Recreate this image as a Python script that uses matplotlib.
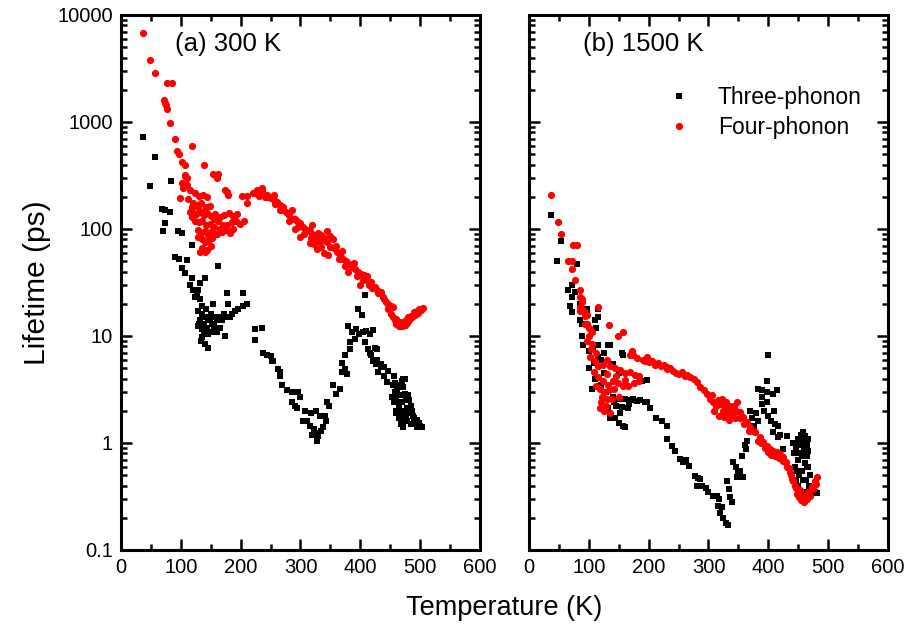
import matplotlib
matplotlib.use("Agg")
import matplotlib.pyplot as plt
from matplotlib.ticker import LogLocator, MultipleLocator, NullFormatter, FixedLocator, FixedFormatter

plt.rcParams['font.family'] = ['Liberation Sans', 'DejaVu Sans']

# (temperature K, lifetime ps) pairs for each panel and process
a_three = [
    (36, 720), (57, 470), (48, 250), (83, 280), (68, 155), (74, 150), (82, 145), (74, 114),
    (70, 96), (95, 95), (102, 92), (118, 71), (90, 55), (97, 52), (110, 51), (102, 43),
    (107, 39), (118, 35), (140, 35), (162, 45), (120, 27), (129, 27), (124, 23), (132, 22),
    (115, 30), (127, 24), (132, 31), (177, 25), (204, 25), (179, 20), (210, 20), (154, 20),
    (129, 17), (135, 16), (140, 15), (145, 14), (150, 16), (155, 15), (160, 14), (166, 15),
    (172, 16), (178, 15), (185, 16), (190, 17), (196, 18), (204, 19), (132, 14), (138, 13),
    (143, 12), (148, 14), (136, 19), (142, 18), (129, 12.5), (135, 11.5), (140, 12), (145, 10.5),
    (150, 11), (156, 12.5), (160, 11), (166, 12), (174, 10), (135, 9.7), (140, 8.5), (145, 7.8),
    (133, 9), (138, 10.5), (131, 13), (224, 11.5), (236, 12), (224, 9.2), (237, 7),
    (244, 6.7), (250, 6.5), (254, 5.8), (266, 4.6), (252, 5.8), (263, 4.9), (266, 4.2), (269, 3.5),
    (277, 3.1), (285, 3.0), (296, 3.0), (300, 2.7), (285, 2.4), (290, 2.2), (294, 2.1), (308, 2.0),
    (318, 1.9), (326, 2.0), (333, 1.8), (305, 1.6), (311, 1.6), (316, 1.45), (322, 1.35), (326, 1.25),
    (330, 1.15), (334, 1.3), (328, 1.05), (320, 1.2), (338, 1.4), (341, 1.8), (343, 1.6), (344, 2.4),
    (348, 2.2), (355, 3.5), (360, 2.9), (366, 3.2), (370, 5.6), (374, 4.9), (378, 4.4), (375, 6.7),
    (383, 7.5), (370, 4.6), (380, 12.3), (386, 11), (392, 11.5), (398, 10.5), (404, 10.8), (410, 11.2),
    (416, 10.5), (421, 11.3), (383, 8.7), (391, 9.3), (396, 17.7), (403, 15.8), (408, 24), (408, 8.7),
    (413, 7.6), (418, 6.7), (424, 7.8), (428, 7.5), (428, 6), (434, 5.5), (440, 5.1), (446, 4.7),
    (456, 4.2), (472, 4), (416, 7), (421, 5.8), (426, 5.5), (430, 4.6), (434, 5.2), (440, 4.2),
    (445, 3.7), (455, 3.5), (458, 3), (460, 2.7), (462, 2.4), (464, 2.2), (466, 2), (468, 1.8),
    (470, 3.8), (472, 3.3), (474, 2.9), (475, 4), (476, 2.5), (478, 2.1), (480, 1.9), (482, 2.5),
    (484, 2.2), (486, 2), (488, 1.8), (490, 1.7), (492, 1.6), (495, 1.65), (498, 1.55), (500, 1.45),
    (503, 1.4), (472, 1.4), (468, 1.5), (464, 1.7), (460, 2.0), (456, 2.4), (470, 1.6), (453, 2.7),
    (478, 1.6), (485, 1.5), (458, 3.6), (462, 3.2), (466, 2.8), (470, 2.4), (474, 2.0), (466, 3.5),
    (480, 2.8), (476, 1.8), (460, 1.9), (488, 1.5), (494, 1.4), (182, 15), (168, 14), (152, 13),
]

a_four = [
    (36, 6840), (48, 3790), (57, 2840), (77, 2300), (85, 2300), (72, 1600), (75, 1450), (77, 1330),
    (74, 1500), (82, 970), (91, 700), (94, 530), (97, 500), (118, 600), (102, 420), (107, 400),
    (139, 400), (107, 320), (110, 300), (154, 330), (160, 300), (177, 220), (179, 210), (202, 205),
    (224, 215), (236, 225), (107, 316), (162, 330), (102, 270), (110, 257), (115, 231), (104, 240),
    (174, 231), (210, 205), (220, 215), (230, 205), (240, 200), (246, 200), (210, 175),
    (124, 215), (130, 205), (137, 210), (144, 200), (120, 175), (126, 168), (134, 175), (142, 160),
    (149, 165), (115, 145), (120, 140), (126, 138), (132, 145), (138, 135), (144, 140), (150, 132),
    (157, 138), (165, 130), (172, 135), (180, 140), (187, 132), (194, 138), (124, 120), (130, 115),
    (136, 118), (142, 110), (148, 112), (155, 105), (162, 118), (170, 110), (178, 108), (186, 115),
    (193, 120), (199, 112), (129, 98), (134, 92), (140, 95), (146, 88), (152, 96), (160, 90),
    (168, 94), (176, 98), (182, 92), (135, 80), (140, 75), (146, 78), (152, 82), (135, 67),
    (140, 61), (132, 61), (144, 64), (99, 195), (112, 190), (118, 160),
    (227, 231), (236, 240), (244, 207), (250, 195), (256, 185), (261, 178), (266, 167), (271, 150),
    (276, 145), (281, 135), (286, 150), (291, 125), (295, 118), (299, 114), (304, 104), (308, 100),
    (312, 97), (316, 95), (320, 90), (325, 85), (330, 92), (335, 88), (340, 83), (345, 95),
    (350, 86), (355, 80), (316, 74), (322, 72), (328, 65), (334, 68), (340, 60), (346, 57),
    (361, 61), (366, 57), (371, 52), (376, 50), (381, 47), (386, 44), (391, 42), (396, 40),
    (401, 38), (406, 37), (411, 36), (411, 33), (415, 30), (420, 28), (424, 29), (430, 25),
    (434, 26), (438, 23), (443, 21), (447, 20), (451, 19), (455, 18.5), (300, 85), (320, 110),
    (330, 78), (345, 75), (290, 100), (280, 120), (265, 150), (255, 210), (360, 70), (370, 62),
    (390, 48), (400, 30), (405, 33), (380, 40),
    (455, 15), (458, 14.2), (462, 13.4), (466, 12.8), (470, 12.5), (474, 12.6), (478, 13.3), (482, 14.1),
    (487, 15), (492, 15.8), (497, 16.5), (502, 17.5), (505, 18.3), (460, 13), (464, 12.3), (468, 12.4),
    (472, 13.1), (476, 14), (484, 15.5), (490, 16.8), (495, 17.2),
    (118, 130), (128, 160), (140, 150), (155, 125), (165, 100), (188, 100), (205, 120), (128, 85),
    (150, 70), (258, 170), (270, 160), (285, 125), (296, 105), (306, 90), (318, 82), (332, 75),
    (350, 68), (356, 66), (365, 52), (375, 45), (395, 36), (418, 32), (428, 27), (440, 22),
    (446, 18), (452, 16), (460, 14.5), (468, 13.5), (475, 12.8), (480, 15), (498, 17.8),
]

b_three = [
    (36, 135), (53, 78), (47, 50), (81, 47), (65, 27), (77, 26), (69, 19), (72, 16.6),
    (97, 18), (116, 15), (86, 14), (89, 13), (112, 12), (89, 10), (116, 8.3), (125, 7),
    (135, 8.2), (157, 6.7), (400, 6.6), (72, 30), (72, 23), (85, 20), (97, 16), (110, 14),
    (116, 18), (132, 8.3), (155, 7), (90, 8.3), (100, 7.3), (107, 7.8), (115, 6.4),
    (189, 3.8), (197, 3.9), (140, 2.7), (150, 2.6), (160, 2.55), (170, 2.5), (180, 2.45), (194, 2.4),
    (145, 2.2), (155, 2.15), (165, 2.1), (132, 2.1), (137, 1.8), (144, 1.7), (150, 1.55), (157, 1.45),
    (202, 2.1), (213, 1.7), (222, 1.6), (230, 1.45), (174, 2.6), (185, 2.5), (197, 2.4), (135, 1.7),
    (160, 1.4), (100, 5), (110, 4), (120, 3.5), (128, 3), (105, 3.2), (125, 4.5),
    (231, 1.1), (239, 0.93), (244, 0.85), (252, 0.71), (258, 0.66), (262, 0.7), (268, 0.61), (277, 0.49),
    (282, 0.47), (286, 0.46), (281, 0.4), (290, 0.4), (296, 0.38), (300, 0.35), (307, 0.32), (314, 0.32),
    (318, 0.3), (316, 0.26), (320, 0.22), (325, 0.2), (322, 0.25), (329, 0.18), (333, 0.17), (331, 0.44),
    (334, 0.37), (336, 0.31), (339, 0.28), (341, 0.66), (346, 0.6), (350, 0.52), (358, 0.48), (348, 0.48),
    (353, 0.55), (356, 0.75), (361, 0.96), (363, 0.88), (365, 1.04),
    (370, 2), (373, 1.7), (376, 1.45), (380, 1.9), (383, 1.6), (383, 3.2), (390, 3.1), (398, 3.0),
    (408, 2.9), (415, 3.1), (398, 3.8), (390, 2.7), (398, 2.4), (390, 2.3), (393, 2.0), (400, 1.8),
    (405, 1.6), (412, 1.5), (416, 1.45), (410, 2.0), (408, 1.27), (420, 1.2), (431, 1.16), (417, 1.14),
    (425, 0.88), (441, 1.0), (443, 0.8), (445, 0.6), (447, 0.9), (449, 1.1), (450, 0.7), (452, 0.5),
    (454, 1.2), (455, 0.95), (456, 0.75), (457, 0.55), (458, 1.27), (459, 1.05), (460, 0.85), (461, 0.65),
    (462, 1.15), (463, 0.45), (464, 0.95), (465, 0.75), (466, 1.1), (467, 0.6), (468, 0.4), (462, 0.35),
    (470, 0.5), (475, 0.38), (478, 0.35), (482, 0.34), (450, 0.4), (453, 0.8), (446, 0.45),
    (452, 1.0), (456, 1.15), (460, 1.0), (464, 0.6), (448, 0.55), (458, 0.45), (466, 0.85),
    (142, 2.4), (152, 1.9), (168, 2.3), (120, 6), (108, 5.6), (140, 5.5), (150, 4.5),
]

b_four = [
    (36, 208), (49, 115), (53.5, 90), (73, 71), (80, 71), (65, 50), (72, 50), (72, 42),
    (77, 33), (85, 23), (89, 22), (85, 18.5), (92, 17), (97, 15.8), (116, 18.5), (94, 13),
    (100, 12), (105, 10.8), (134, 12.8), (148, 10), (157, 10.8), (172, 7.2), (174, 6.7), (197, 6.3),
    (194, 5.8), (206, 5.8), (216, 5.6), (226, 5.4), (231, 5.1), (210, 5.3), (85, 27), (88, 21),
    (85, 17), (94, 15.5), (97, 13), (102, 11.5), (100, 10), (97, 9), (106, 8.5), (104, 7.5),
    (112, 7), (102, 6.4), (110, 5.8), (115, 5.2), (124, 5.4), (130, 5.9), (136, 5.2), (144, 5.0),
    (152, 4.8), (160, 4.5), (169, 4.6), (177, 4.3), (184, 4.2), (115, 4.1), (124, 3.8), (132, 3.5),
    (140, 3.8), (148, 3.6), (157, 3.4), (165, 3.4), (176, 3.6), (184, 3.8), (118, 3.2), (126, 3.0),
    (134, 3.1), (142, 3.2), (150, 2.7), (138, 2.6), (120, 2.4), (128, 2.2), (125, 2.0), (119, 2.1),
    (135, 1.9), (169, 6.7), (180, 6.2), (190, 5.9), (200, 5.7), (210, 5.5), (220, 5.2), (230, 4.9),
    (240, 4.7), (250, 4.4), (260, 4.2), (269, 4.1), (255, 4.6), (281, 3.7), (286, 3.3), (292, 3.1),
    (298, 2.9), (303, 2.6), (308, 2.4), (312, 2.2), (316, 2.5), (320, 2.3), (324, 2.0), (328, 2.1),
    (332, 1.9), (336, 2.2), (340, 1.8), (344, 1.7), (348, 2.4), (310, 2.0), (318, 1.8), (326, 1.75),
    (334, 1.65), (322, 2.6), (338, 2.0), (353, 1.94), (358, 1.75), (365, 1.57), (370, 1.41),
    (378, 1.27), (386, 1.14), (391, 1.02), (398, 0.94), (403, 0.88), (408, 0.84), (415, 0.82), (420, 0.79),
    (425, 0.74), (428, 0.67), (431, 0.6), (436, 0.54), (440, 0.46), (445, 0.4), (450, 0.34), (456, 0.31),
    (462, 0.32), (467, 0.35), (473, 0.39), (478, 0.44), (482, 0.48), (360, 1.5), (368, 1.3), (375, 1.3),
    (382, 1.05), (388, 1.0), (395, 0.9), (400, 0.82), (405, 0.78), (412, 0.76), (418, 0.72), (424, 0.68),
    (430, 0.66), (434, 0.58), (438, 0.5), (442, 0.44), (447, 0.38), (452, 0.31), (455, 0.29), (458, 0.3),
    (460, 0.28), (464, 0.3), (469, 0.32), (475, 0.37), (480, 0.41), (453, 0.36), (448, 0.33), (352, 1.7),
    (346, 2.0), (108, 4.6), (112, 3.4), (130, 4.4), (146, 4.2), (160, 3.9), (122, 2.7), (130, 2.6),
    (236, 5.0), (246, 4.5), (264, 4.3), (276, 4.0), (306, 2.8), (330, 2.4), (342, 2.2),
]

panel_titles = ["(a) 300 K", "(b) 1500 K"]
series_labels = ["Three-phonon", "Four-phonon"]
x_ticks = [0, 100, 200, 300, 400, 500, 600]
y_ticks = [0.1, 1, 10, 100, 1000, 10000]
y_tick_labels = ["0.1", "1", "10", "100", "1000", "10000"]

fig = plt.figure(figsize=(9.07, 6.35), dpi=100)
ax_a = fig.add_axes([0.1334, 0.1339, 0.3958, 0.8425])
ax_b = fig.add_axes([0.5832, 0.1339, 0.3958, 0.8425])


def unzip(pairs):
    return [p[0] for p in pairs], [p[1] for p in pairs]


for ax, three, four, title in [(ax_a, a_three, a_four, panel_titles[0]),
                               (ax_b, b_three, b_four, panel_titles[1])]:
    tx, ty = unzip(three)
    fx, fy = unzip(four)
    ax.plot(tx, ty, linestyle='none', marker='s', markersize=4.5, color='black',
            markeredgewidth=0, label=series_labels[0])
    ax.plot(fx, fy, linestyle='none', marker='o', markersize=5.2, color='#ff0000',
            markeredgewidth=0, label=series_labels[1])
    ax.set_yscale('log')
    ax.set_xlim(0, 600)
    ax.set_ylim(0.1, 10000)
    ax.xaxis.set_major_locator(FixedLocator(x_ticks))
    ax.xaxis.set_minor_locator(MultipleLocator(50))
    ax.yaxis.set_major_locator(FixedLocator(y_ticks))
    ax.yaxis.set_minor_locator(LogLocator(base=10, subs=range(2, 10), numticks=20))
    ax.yaxis.set_minor_formatter(NullFormatter())
    ax.tick_params(which='both', direction='in', top=True, right=True, width=1.8,
                   labelsize=14.5, pad=6)
    ax.tick_params(which='major', length=8)
    ax.tick_params(which='minor', length=4.5)
    for s in ax.spines.values():
        s.set_linewidth(2.2)
    ax.text(0.15, 0.945, title, transform=ax.transAxes, fontsize=18.5,
            ha='left', va='center')

ax_a.yaxis.set_major_formatter(FixedFormatter(y_tick_labels))
ax_b.tick_params(axis='y', which='both', labelleft=False)

ax_a.set_ylabel("Lifetime (ps)", fontsize=21.5, labelpad=4)
fig.text(0.556, 0.043, "Temperature (K)", fontsize=19.5, ha='center', va='center')

ax_b.legend(loc='upper left', bbox_to_anchor=(0.36, 0.885), frameon=False,
            fontsize=16.5, handlelength=1.0, handletextpad=1.2, labelspacing=0.3,
            markerscale=1.0, borderaxespad=0)

fig.savefig("out.png", dpi=100)
